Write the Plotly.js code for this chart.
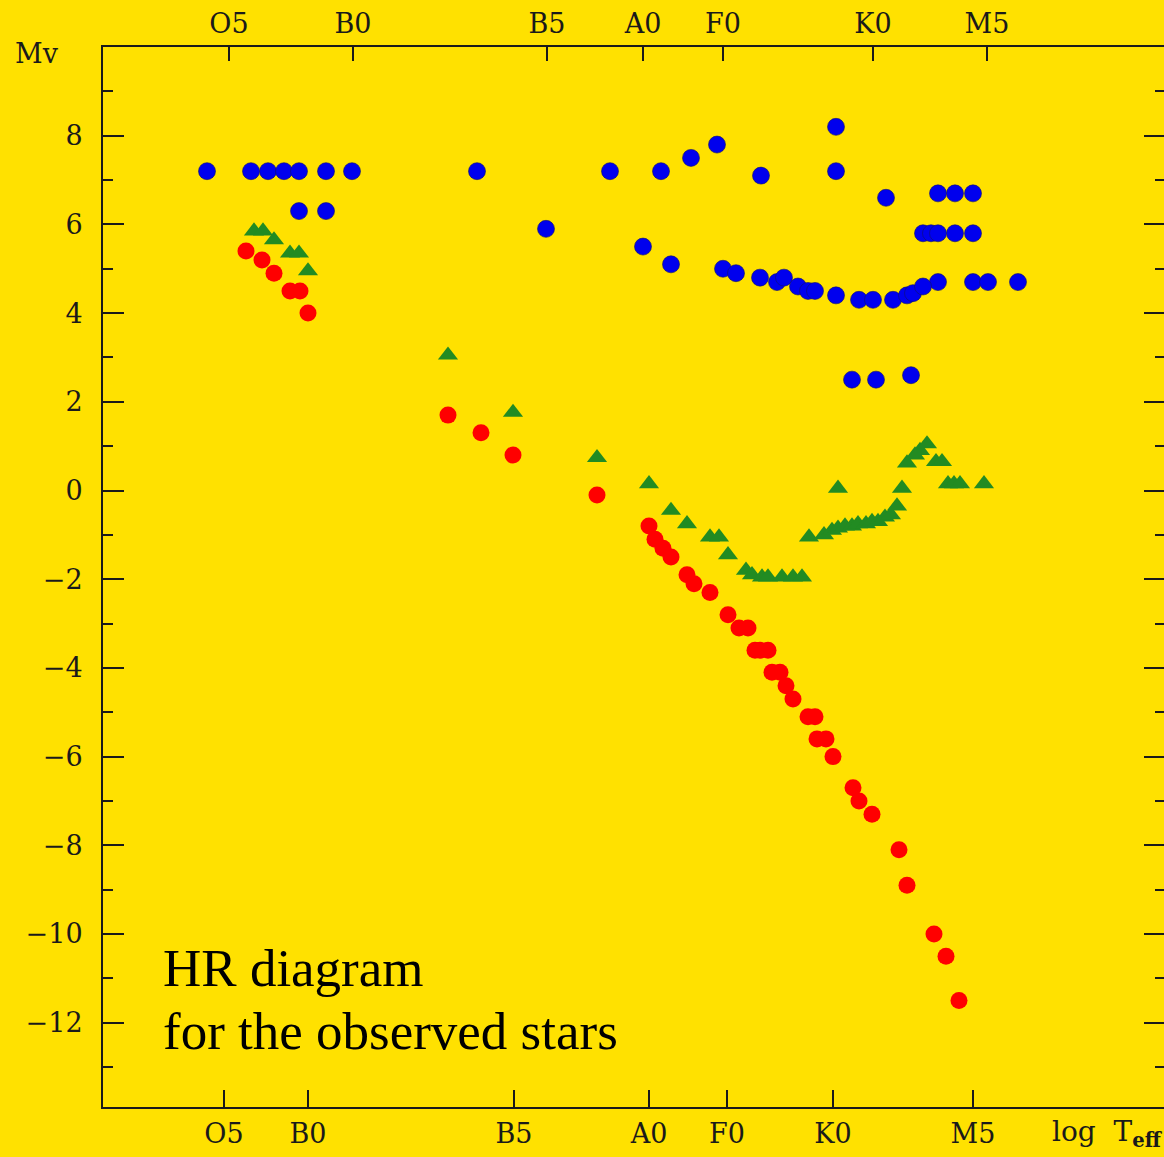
<!DOCTYPE html>
<html>
<head>
<meta charset="utf-8">
<script src="https://cdn.plot.ly/plotly-3.0.1.min.js"></script>
<style>
  html, body { margin: 0; padding: 0; background: #FFE100; overflow: hidden; }
  #chart { width: 1166px; height: 1157px; }
</style>
</head>
<body>
<div id="chart"></div>
<script>
// x: position on the spectral-type / log Teff scale (arbitrary linear units), y: Mv

// Bottom and top spectral-type tick labels
const bottomTickVals = [224, 308, 514, 649, 727, 833, 973];
const bottomTickText = ["O5", "B0", "B5", "A0", "F0", "K0", "M5"];
const topTickVals = [229, 353, 547, 643, 723, 873, 987];
const topTickText = ["O5", "B0", "B5", "A0", "F0", "K0", "M5"];
const mvTickVals = [-12, -10, -8, -6, -4, -2, 0, 2, 4, 6, 8];
const mvMinorVals = [-13, -11, -9, -7, -5, -3, -1, 1, 3, 5, 7, 9];

// Blue circles
const blueX = [207,251,268,284,299,326,352,299,326,477,546,610,661,691,717,761,836,836,886,938,955,973,923,931,938,955,973,938,973,988,1018,643,671,723,736,760,777,784,798,808,815,836,859,873,893,907,913,923,852,876,911];
const blueY = [7.2,7.2,7.2,7.2,7.2,7.2,7.2,6.3,6.3,7.2,5.9,7.2,7.2,7.5,7.8,7.1,8.2,7.2,6.6,6.7,6.7,6.7,5.8,5.8,5.8,5.8,5.8,4.7,4.7,4.7,4.7,5.5,5.1,5.0,4.9,4.8,4.7,4.8,4.6,4.5,4.5,4.4,4.3,4.3,4.3,4.4,4.45,4.6,2.5,2.5,2.6];

// Red circles
const redX = [246,262,274,290,300,308,448,481,513,597,649,655,663,671,687,694,710,728,739,748,755,760,768,772,780,786,793,808,815,817,826,833,853,859,872,899,907,934,946,959];
const redY = [5.4,5.2,4.9,4.5,4.5,4.0,1.7,1.3,0.8,-0.1,-0.8,-1.1,-1.3,-1.5,-1.9,-2.1,-2.3,-2.8,-3.1,-3.1,-3.6,-3.6,-3.6,-4.1,-4.1,-4.4,-4.7,-5.1,-5.1,-5.6,-5.6,-6.0,-6.7,-7.0,-7.3,-8.1,-8.9,-10.0,-10.5,-11.5];

// Green triangles
const greenX = [254,263,274,290,299,308,448,513,597,649,671,687,710,719,728,746,752,762,768,782,793,802,809,824,832,838,845,852,858,866,872,878,885,891,897,838,902,907,915,920,927,936,942,948,954,960,984];
const greenY = [5.85,5.85,5.65,5.35,5.35,4.95,3.05,1.76,0.74,0.15,-0.45,-0.75,-1.05,-1.05,-1.45,-1.8,-1.9,-1.95,-1.95,-1.95,-1.95,-1.95,-1.05,-1.0,-0.9,-0.85,-0.8,-0.8,-0.75,-0.75,-0.7,-0.7,-0.6,-0.55,-0.35,0.05,0.05,0.62,0.8,0.9,1.05,0.65,0.65,0.15,0.15,0.15,0.15];

const xRange = [103, 1165];
const yRange = [-13.9, 10.0];

const BG = "#FFE100";
const INK = "#1a1a1a";
const FAM = "'DejaVu Serif', serif";
const tickFont = { family: FAM, size: 27, color: INK };

const traces = [
  { type: "scatter", mode: "markers", x: redX, y: redY, name: "red", xaxis: "x", yaxis: "y",
    marker: { symbol: "circle", size: 17, color: "#FF0000", line: { width: 0 } },
    hoverinfo: "x+y" },
  { type: "scatter", mode: "markers", x: greenX, y: greenY, name: "green", xaxis: "x", yaxis: "y",
    marker: { symbol: "triangle-up", size: 17.5, color: "#228B22", line: { width: 0 } },
    hoverinfo: "x+y" },
  { type: "scatter", mode: "markers", x: blueX, y: blueY, name: "blue", xaxis: "x2", yaxis: "y",
    marker: { symbol: "circle", size: 17, color: "#0000EE", line: { width: 0.6, color: "#10106a" } },
    hoverinfo: "x+y" }
];

const layout = {
  width: 1166, height: 1157,
  margin: { l: 103, r: 1, t: 47, b: 50, pad: 0 },
  paper_bgcolor: BG, plot_bgcolor: BG,
  showlegend: false,
  xaxis: {
    range: xRange, showgrid: false, zeroline: false,
    showline: true, linecolor: INK, linewidth: 2,
    ticks: "inside", ticklen: 17, tickwidth: 2, tickcolor: INK,
    tickmode: "array", tickvals: bottomTickVals, ticktext: bottomTickText,
    tickfont: tickFont, side: "bottom", ticklabelstandoff: 2
  },
  xaxis2: {
    range: xRange, overlaying: "x", anchor: "y", side: "top",
    showgrid: false, zeroline: false,
    showline: true, linecolor: INK, linewidth: 2,
    ticks: "inside", ticklen: 14, tickwidth: 2, tickcolor: INK,
    tickmode: "array", tickvals: topTickVals, ticktext: topTickText,
    tickfont: tickFont, ticklabelstandoff: 1
  },
  yaxis: {
    range: yRange, showgrid: false, zeroline: false,
    showline: true, linecolor: INK, linewidth: 2, mirror: "ticks",
    ticks: "inside", ticklen: 21, tickwidth: 2, tickcolor: INK,
    tickmode: "array", tickvals: mvTickVals,
    tickfont: tickFont, ticklabelstandoff: 13,
    minor: { ticks: "inside", ticklen: 10, tickwidth: 2, tickcolor: INK,
             tickmode: "array", tickvals: mvMinorVals, showgrid: false }
  },
  annotations: [
    { xref: "paper", yref: "paper", x: -0.0621, y: 0.9943, xanchor: "center", yanchor: "middle",
      text: "Mv", showarrow: false, font: { family: FAM, size: 27, color: INK } },
    { xref: "paper", yref: "paper", x: 0.8917, y: -0.0249, xanchor: "left", yanchor: "middle",
      text: "log&nbsp;&nbsp;T<sub><b>eff</b></sub>", showarrow: false, font: { family: FAM, size: 28, color: INK } },
    { xref: "paper", yref: "paper", x: 0.0546, y: 0.1311, xanchor: "left", yanchor: "middle",
      text: "HR diagram", showarrow: false, font: { family: "Liberation Serif", size: 53, color: "#000" } },
    { xref: "paper", yref: "paper", x: 0.0546, y: 0.0717, xanchor: "left", yanchor: "middle",
      text: "for the observed stars", showarrow: false, font: { family: "Liberation Serif", size: 53, color: "#000" } }
  ]
};

Plotly.newPlot("chart", traces, layout, { staticPlot: true, displayModeBar: false });
</script>
</body>
</html>
